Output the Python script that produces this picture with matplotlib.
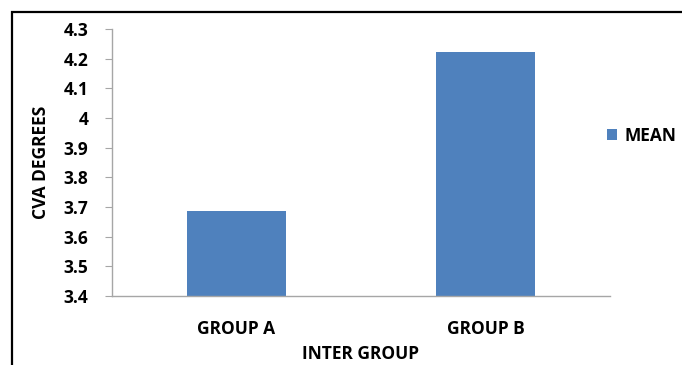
import matplotlib
matplotlib.use("Agg")
import matplotlib.pyplot as plt
from matplotlib.patches import Rectangle

groups = ["GROUP A", "GROUP B"]
mean_cva = [3.686, 4.222]
y_ticks = [3.4, 3.5, 3.6, 3.7, 3.8, 3.9, 4.0, 4.1, 4.2, 4.3]
y_tick_labels = ["3.4", "3.5", "3.6", "3.7", "3.8", "3.9", "4", "4.1", "4.2", "4.3"]

plt.rcParams['font.family'] = ['Open Sans', 'DejaVu Sans']
plt.rcParams['font.weight'] = 'bold'

W, H = 682, 365
fig = plt.figure(figsize=(W / 100, H / 100), dpi=100)

# outer frame (cut off on right and bottom like the original)
fig.patches.append(Rectangle((12 / W, -0.1), 1.2, 1 - 12 / H + 0.1,
                             transform=fig.transFigure, fill=False,
                             edgecolor='black', linewidth=1.6))

ax = fig.add_axes([112 / W, 1 - 296 / H, (610 - 112) / W, (296 - 29) / H])
x = [0.5, 1.5]
ax.bar(x, mean_cva, width=0.4, bottom=0, color='#4F81BD', label='MEAN')
ax.set_xlim(0, 2)
ax.set_ylim(3.4, 4.3)
ax.set_yticks(y_ticks)
ax.set_yticklabels(y_tick_labels)
ax.set_xticks(x)
ax.set_xticklabels(groups)

for s in ['top', 'right']:
    ax.spines[s].set_visible(False)
for s in ['left', 'bottom']:
    ax.spines[s].set_color('#A6A6A6')
    ax.spines[s].set_linewidth(1.0)
ax.tick_params(axis='y', colors='#A6A6A6', length=5, labelcolor='black',
               labelsize=12.5, pad=12)
ax.tick_params(axis='x', length=0, labelsize=12.5, pad=17)

ax.set_ylabel('CVA DEGREES', fontsize=12.5, fontweight='bold', labelpad=10)
ax.set_xlabel('INTER GROUP', fontsize=12.5, fontweight='bold', labelpad=5)

ax.legend(loc='center left', bbox_to_anchor=(0.962, 0.6), frameon=False,
          fontsize=12.5, handlelength=0.6, handleheight=0.6, handletextpad=0.4)

fig.savefig('out.png', dpi=100)
